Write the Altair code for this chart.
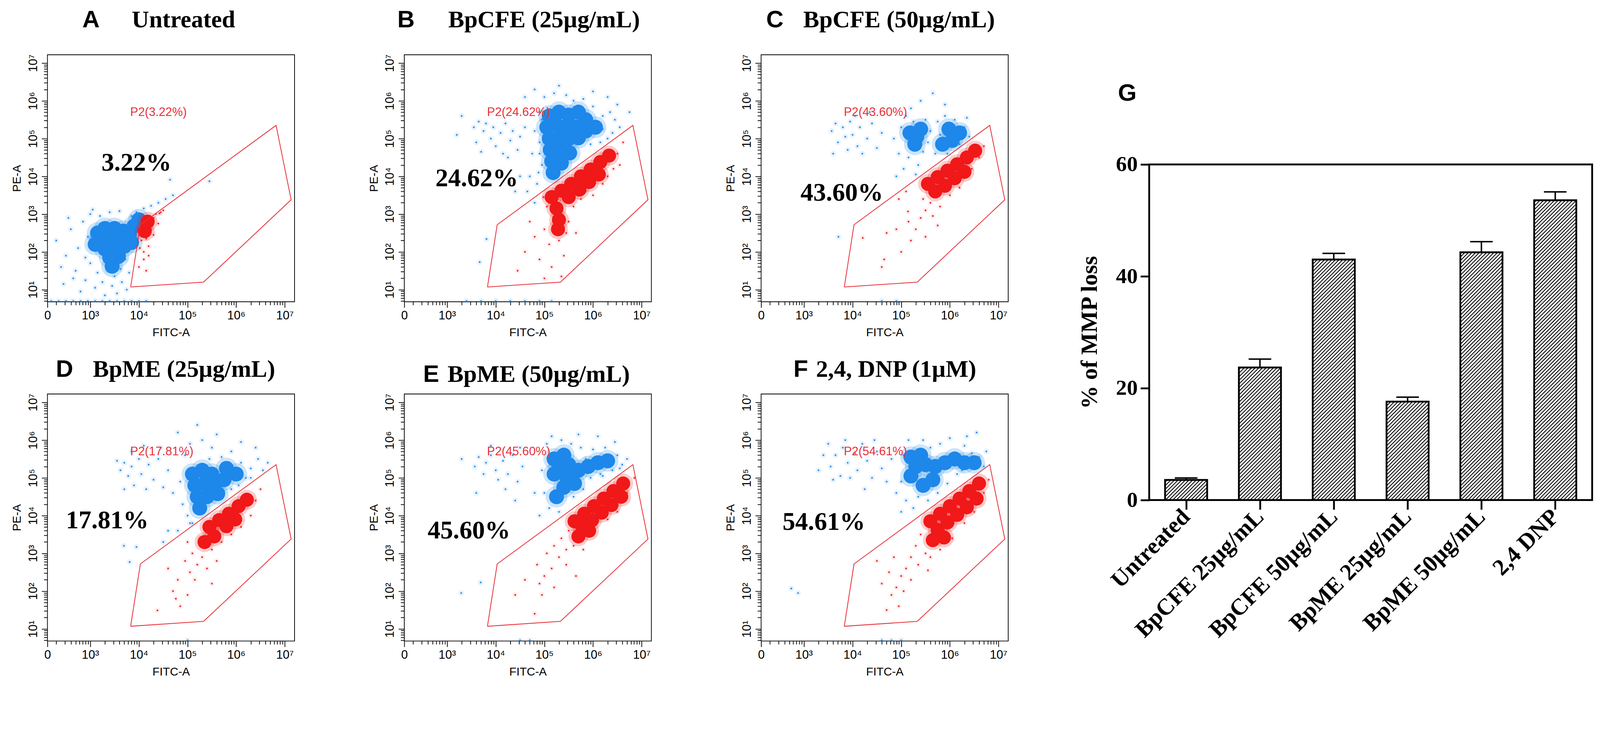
import math
import json
import pandas as pd
import altair as alt

# ---------------------------------------------------------------- data
PANEL_LETTERS = ["A", "B", "C", "D", "E", "F"]
PANEL_TITLES = ["Untreated", "BpCFE (25µg/mL)", "BpCFE (50µg/mL)",
                "BpME (25µg/mL)", "BpME (50µg/mL)", "2,4, DNP (1µM)"]
GATE_PERCENT = ["3.22%", "24.62%", "43.60%", "17.81%", "45.60%", "54.61%"]
P2_LABELS = ["P2(3.22%)", "P2(24.62%)", "P2(43.60%)", "P2(17.81%)", "P2(45.60%)", "P2(54.61%)"]

# P2 gate polygon (log10 FITC-A, log10 PE-A)
GATE_X = [3.83, 4.03, 6.82, 7.13, 5.33, 3.83]
GATE_Y = [1.07, 2.72, 5.35, 3.38, 1.20, 1.07]

# ---- A  Untreated
A_BLUE_CORE = [(3.15, 2.5), (3.3, 2.62), (3.5, 2.62), (3.68, 2.55), (3.2, 2.3), (3.4, 2.35), (3.6, 2.35),
               (3.8, 2.45), (3.3, 2.08), (3.5, 2.1), (3.7, 2.15), (3.4, 1.85), (3.58, 1.88), (3.9, 2.68),
               (4.0, 2.85), (3.45, 1.62), (3.1, 2.2), (3.85, 2.25)]
A_BLUE_SPARSE = [(2.3, 2.3), (2.4, 1.6), (2.45, 1.15), (2.5, 1.9), (2.55, 2.9), (2.6, 2.6), (2.7, 1.5),
                 (2.75, 2.1), (2.8, 0.95), (2.85, 2.8), (2.9, 1.25), (2.95, 2.4), (3.0, 1.7), (3.0, 3.0),
                 (3.1, 1.05), (3.15, 1.45), (3.2, 2.95), (3.25, 1.2), (3.3, 0.85), (3.35, 1.5), (3.45, 1.1),
                 (3.5, 1.35), (3.55, 0.9), (3.62, 1.55), (3.65, 1.2), (3.72, 1.8), (3.75, 1.0), (3.8, 1.45),
                 (3.85, 2.95), (3.95, 3.05), (4.1, 3.15), (4.25, 3.22), (4.4, 3.3), (4.55, 3.4), (4.7, 3.5),
                 (3.05, 3.12), (3.4, 3.05), (3.6, 3.08), (2.65, 1.3), (2.9, 1.85), (4.64, 3.91), (5.45, 3.87),
                 (2.2, 0.7), (2.35, 0.7), (2.5, 0.7), (2.65, 0.7), (2.8, 0.7), (2.95, 0.7), (3.1, 0.7),
                 (3.25, 0.7), (3.4, 0.7), (3.55, 0.7), (3.7, 0.7), (3.85, 0.7), (4.0, 0.7), (4.15, 0.7)]
A_RED_CORE = [(4.12, 2.55), (4.18, 2.8)]
A_RED_SPARSE = [(4.02, 2.1), (4.05, 2.3), (4.1, 2.0), (4.15, 2.35), (4.2, 2.15), (4.25, 2.6), (4.3, 2.9),
                (4.35, 3.0), (4.42, 3.02), (4.45, 3.05), (4.3, 2.45), (4.1, 1.8), (4.2, 1.9), (4.5, 3.1),
                (4.0, 1.6), (4.15, 1.5), (4.4, 2.75), (4.27, 2.85)]

# ---- B  BpCFE 25
B_BLUE_CORE = [(5.1, 5.6), (5.3, 5.7), (5.5, 5.62), (5.05, 5.3), (5.25, 5.35), (5.45, 5.32), (5.65, 5.3),
               (5.1, 5.0), (5.3, 5.0), (5.5, 5.0), (5.7, 5.02), (5.12, 4.7), (5.32, 4.7), (5.52, 4.62),
               (5.15, 4.4), (5.35, 4.35), (5.18, 4.1), (5.85, 5.2), (5.85, 5.5), (6.05, 5.3), (5.7, 5.7)]
B_BLUE_SPARSE = [(3.55, 5.3), (3.65, 5.45), (3.75, 5.2), (3.8, 5.4), (3.9, 5.0), (3.95, 5.3), (4.0, 4.8),
                 (4.1, 5.15), (4.15, 4.6), (4.2, 5.4), (4.3, 4.95), (4.35, 5.2), (4.45, 4.7), (4.5, 5.05),
                 (4.6, 5.3), (3.6, 4.9), (3.7, 4.65), (4.25, 4.5), (3.2, 5.1), (3.3, 5.6), (4.7, 4.0),
                 (4.75, 4.6), (4.8, 5.2), (4.85, 3.8), (4.9, 5.7), (4.95, 4.3), (4.65, 3.6), (4.8, 3.3),
                 (5.0, 6.1), (5.2, 6.2), (5.45, 6.15), (5.6, 6.0), (5.8, 6.05), (6.0, 5.85), (6.2, 5.6),
                 (6.35, 5.7), (6.45, 5.5), (6.55, 5.3), (6.5, 5.9), (6.3, 6.1), (6.0, 6.25), (5.3, 6.4),
                 (4.6, 6.1), (4.8, 6.3), (6.75, 5.7), (4.5, 4.0), (4.4, 3.6), (6.2, 5.25), (6.3, 5.0),
                 (6.4, 5.15), (6.15, 4.9), (5.95, 4.85), (4.9, 4.9), (4.95, 5.5), (4.9, 4.6), (4.88, 4.1),
                 (3.67, 1.73), (3.81, 2.34), (3.4, 0.7), (3.7, 0.7), (4.0, 0.7), (4.3, 0.7), (4.6, 0.7),
                 (4.9, 0.7), (5.15, 0.7)]
B_RED_CORE = [(5.15, 3.45), (5.35, 3.62), (5.55, 3.8), (5.75, 4.0), (5.95, 4.18), (6.15, 4.38), (6.33, 4.55),
              (5.5, 3.45), (5.72, 3.65), (5.92, 3.85), (6.12, 4.05), (5.25, 3.15), (5.3, 2.85), (5.28, 2.6)]
B_RED_SPARSE = [(4.6, 2.0), (4.8, 2.4), (4.9, 1.8), (5.0, 2.6), (5.1, 2.2), (5.15, 1.6), (5.2, 2.9),
                (5.3, 2.3), (5.4, 1.9), (5.45, 2.5), (5.5, 2.8), (5.6, 3.2), (5.65, 2.5), (5.75, 3.4),
                (5.85, 3.6), (6.0, 3.5), (6.2, 3.8), (6.42, 4.2), (6.5, 4.6), (6.62, 4.9), (4.45, 1.5),
                (5.0, 1.3), (5.35, 1.35), (6.3, 4.0), (4.7, 2.8), (5.05, 3.2), (4.98, 3.45), (6.55, 4.3)]

# ---- C  BpCFE 50
C_BLUE_CORE = [(5.18, 5.15), (5.32, 5.05), (5.4, 5.25), (5.28, 4.85), (5.85, 4.85), (6.05, 4.95),
               (6.2, 5.15), (5.98, 5.25)]
C_BLUE_SPARSE = [(3.57, 5.2), (3.65, 5.4), (3.7, 4.9), (3.8, 5.3), (3.85, 5.05), (3.9, 4.7), (3.95, 5.45),
                 (4.0, 5.1), (4.1, 4.8), (4.15, 5.3), (4.2, 4.6), (4.3, 5.0), (4.4, 5.4), (4.5, 4.75),
                 (4.6, 5.15), (3.6, 4.6), (4.05, 5.6), (4.35, 5.7), (4.95, 4.6), (5.0, 5.3), (5.05, 4.2),
                 (5.1, 5.6), (5.15, 4.5), (5.2, 5.8), (5.35, 4.3), (5.45, 4.65), (5.5, 5.5), (5.55, 4.9),
                 (5.6, 5.2), (5.7, 4.6), (5.75, 5.45), (5.8, 5.1), (5.9, 5.6), (5.95, 4.6), (6.1, 5.5),
                 (6.2, 4.85), (6.3, 5.3), (6.4, 5.05), (6.35, 5.55), (5.3, 4.05), (5.4, 6.0), (5.65, 6.2),
                 (5.9, 5.9), (4.9, 4.0), (5.25, 5.45), (6.0, 5.15), (6.25, 5.05), (4.85, 5.0), (3.71, 2.4),
                 (4.6, 0.7), (4.9, 0.7)]
C_RED_CORE = [(5.55, 3.8), (5.75, 3.98), (5.95, 4.15), (6.15, 4.32), (6.35, 4.5), (6.52, 4.68), (5.7, 3.6),
              (5.9, 3.75), (6.1, 3.95), (6.3, 4.12)]
C_RED_SPARSE = [(5.45, 3.4), (5.5, 3.1), (5.6, 3.3), (5.4, 2.9), (5.3, 2.6), (5.2, 2.3), (5.0, 2.0),
                (4.9, 2.6), (5.15, 2.8), (5.65, 2.95), (5.8, 3.2), (6.0, 3.5), (6.2, 3.7), (6.45, 4.2),
                (6.6, 4.5), (6.7, 4.8), (4.7, 2.5), (4.65, 1.8), (4.6, 1.6), (5.5, 2.4), (5.75, 2.7),
                (4.95, 3.4), (5.1, 3.6), (4.21, 2.37), (5.14, 3.07)]

# ---- D  BpME 25
D_BLUE_CORE = [(5.1, 5.1), (5.3, 5.2), (5.5, 5.1), (5.15, 4.8), (5.35, 4.85), (5.55, 4.8), (5.2, 4.5),
               (5.4, 4.5), (5.62, 4.58), (5.75, 4.95), (5.8, 5.25), (6.0, 5.1), (5.25, 4.2)]
D_BLUE_SPARSE = [(3.55, 5.45), (3.62, 5.2), (3.7, 5.4), (3.78, 5.05), (3.85, 5.3), (3.9, 4.8), (4.0, 5.5),
                 (4.05, 5.1), (4.15, 4.7), (4.2, 5.35), (4.3, 4.95), (4.4, 5.5), (4.5, 4.75), (4.6, 5.2),
                 (4.7, 4.6), (3.7, 4.7), (4.45, 5.8), (4.1, 5.85), (3.85, 5.7), (4.9, 4.3), (4.95, 5.6),
                 (5.0, 4.0), (5.05, 5.9), (5.1, 3.8), (5.3, 6.0), (5.5, 5.8), (5.7, 5.55), (5.9, 5.7),
                 (6.1, 5.4), (6.2, 5.0), (6.3, 5.25), (6.45, 5.5), (6.55, 5.2), (6.4, 5.8), (6.1, 5.95),
                 (5.6, 6.15), (5.2, 6.4), (4.8, 6.2), (5.9, 4.7), (6.05, 4.8), (6.3, 5.0), (4.85, 4.9),
                 (4.8, 3.6), (5.05, 3.8), (5.45, 5.5), (5.75, 4.65), (6.65, 5.4), (4.6, 3.6), (4.5, 3.3),
                 (3.69, 3.2), (3.95, 3.17), (3.81, 2.77), (5.0, 0.7)]
D_RED_CORE = [(5.45, 3.7), (5.65, 3.88), (5.85, 4.05), (6.05, 4.25), (6.22, 4.42), (5.8, 3.72), (5.98, 3.9),
              (5.55, 3.45), (5.35, 3.3)]
D_RED_SPARSE = [(5.0, 3.3), (5.1, 3.0), (5.2, 2.7), (5.25, 3.4), (4.95, 2.8), (5.05, 2.5), (5.15, 2.3),
                (5.3, 2.9), (5.4, 2.6), (5.5, 3.1), (5.6, 2.8), (5.7, 3.3), (5.9, 3.5), (6.1, 3.7),
                (6.3, 4.0), (6.4, 4.4), (6.5, 4.7), (4.8, 2.3), (4.7, 2.0), (4.6, 2.6), (5.0, 1.9),
                (5.5, 2.2), (4.85, 1.6), (5.6, 3.6), (4.38, 1.49), (4.76, 1.8)]

# ---- E  BpME 50
E_BLUE_CORE = [(5.2, 5.5), (5.4, 5.6), (5.3, 5.3), (5.5, 5.35), (5.2, 5.1), (5.45, 5.05), (5.7, 5.2),
               (5.9, 5.3), (6.1, 5.4), (6.3, 5.45), (5.4, 4.75), (5.62, 4.85), (5.25, 4.5)]
E_BLUE_SPARSE = [(3.57, 5.3), (3.65, 5.55), (3.75, 5.1), (3.8, 5.4), (3.9, 5.6), (4.0, 5.2), (4.05, 4.95),
                 (4.15, 5.45), (4.25, 5.1), (4.35, 5.6), (4.45, 4.9), (4.55, 5.3), (3.6, 4.6), (4.2, 4.7),
                 (4.5, 5.8), (3.9, 5.85), (4.4, 4.4), (3.3, 5.5), (4.95, 5.2), (5.0, 4.6), (5.05, 5.9),
                 (5.1, 4.2), (5.15, 6.1), (5.3, 4.1), (5.35, 6.0), (5.55, 5.9), (5.6, 4.5), (5.75, 5.8),
                 (5.8, 4.7), (5.95, 5.0), (6.0, 5.75), (6.15, 5.1), (6.25, 5.8), (6.4, 5.2), (6.5, 5.6),
                 (6.6, 5.35), (6.7, 5.5), (6.45, 5.95), (6.1, 6.1), (5.7, 6.15), (4.9, 4.0), (4.8, 4.6),
                 (5.85, 5.5), (6.2, 5.05), (6.55, 5.25), (3.29, 1.95), (3.69, 2.23), (4.5, 0.7), (4.7, 0.7)]
E_RED_CORE = [(5.62, 3.85), (5.82, 4.05), (6.02, 4.25), (6.22, 4.45), (6.42, 4.65), (6.62, 4.85),
              (5.78, 3.7), (5.98, 3.88), (6.18, 4.08), (6.38, 4.28), (6.58, 4.5), (5.7, 3.45), (5.92, 3.6)]
E_RED_SPARSE = [(5.5, 3.6), (5.35, 3.4), (5.2, 3.2), (5.05, 3.0), (5.3, 2.9), (5.15, 2.6), (5.45, 3.1),
                (5.6, 3.2), (5.0, 2.4), (4.85, 2.7), (4.9, 2.2), (4.95, 1.9), (5.2, 2.1), (4.6, 2.3),
                (4.8, 1.4), (6.0, 3.5), (6.3, 3.9), (6.5, 4.1), (6.7, 4.6), (6.85, 5.0), (5.8, 3.1),
                (5.45, 2.7), (4.4, 1.9), (5.65, 2.4)]

# ---- F  2,4-DNP
F_BLUE_CORE = [(5.2, 5.55), (5.4, 5.6), (5.3, 5.3), (5.5, 5.35), (5.2, 5.05), (5.7, 5.3), (5.9, 5.4),
               (6.1, 5.5), (6.3, 5.4), (6.5, 5.4), (5.45, 4.8), (5.65, 4.95)]
F_BLUE_SPARSE = [(3.4, 5.6), (3.5, 5.9), (3.55, 5.3), (3.65, 5.6), (3.75, 5.05), (3.8, 5.8), (3.9, 5.4),
                 (3.95, 5.0), (4.05, 5.65), (4.1, 5.2), (4.2, 5.9), (4.3, 5.45), (4.4, 5.0), (4.5, 5.7),
                 (4.6, 5.25), (4.7, 4.9), (4.8, 5.5), (3.6, 4.95), (4.25, 4.7), (3.3, 5.2), (4.45, 6.0),
                 (3.85, 6.0), (5.0, 4.9), (5.05, 5.6), (5.1, 4.4), (5.15, 6.0), (5.25, 4.2), (5.35, 4.5),
                 (5.45, 6.0), (5.6, 5.8), (5.8, 5.9), (5.95, 4.85), (6.0, 6.05), (6.15, 5.1), (6.3, 5.85),
                 (6.45, 5.65), (6.6, 5.55), (6.7, 5.3), (6.75, 5.7), (6.35, 6.1), (5.75, 4.6), (5.55, 4.4),
                 (5.0, 4.1), (6.55, 6.2), (6.25, 5.2), (4.9, 4.6), (2.74, 2.07), (2.88, 1.95),
                 (4.6, 0.7), (4.8, 0.7), (5.0, 0.7)]
F_RED_CORE = [(5.6, 3.85), (5.8, 4.05), (6.0, 4.25), (6.2, 4.45), (6.4, 4.65), (6.6, 4.85), (5.75, 3.62),
              (5.95, 3.82), (6.15, 4.02), (6.35, 4.22), (6.55, 4.45), (5.65, 3.35), (5.88, 3.42)]
F_RED_SPARSE = [(5.4, 3.5), (5.3, 3.2), (5.2, 2.9), (5.1, 2.6), (5.0, 2.4), (4.9, 2.1), (4.85, 2.9),
                (5.35, 2.7), (5.5, 3.0), (5.05, 2.0), (4.75, 2.5), (4.8, 1.9), (4.6, 2.2), (4.95, 1.6),
                (4.7, 1.5), (5.2, 2.3), (5.6, 2.9), (6.05, 3.4), (6.3, 3.8), (6.5, 4.1), (6.7, 4.6),
                (6.8, 4.95), (5.8, 3.1), (4.5, 2.8), (5.55, 2.55)]

# ---- G  bar chart
BAR_LABELS = ["Untreated", "BpCFE 25µg/mL", "BpCFE 50µg/mL", "BpME 25µg/mL", "BpME 50µg/mL", "2,4 DNP"]
BAR_VALUES = [3.6, 23.7, 43.0, 17.6, 44.3, 53.6]
BAR_ERRORS = [0.35, 1.5, 1.1, 0.8, 1.9, 1.5]

# ---------------------------------------------------------------- style / layout
SANS = "Liberation Sans, Arial, Helvetica, sans-serif"
SERIF = "Liberation Serif, Times New Roman, serif"
BLUE = "#1d87ea"
RED = "#f01818"
GATE_RED = "#e8313a"
PW, PH = 680, 680
XDOM = [2.12, 7.2]
YDOM = [0.68, 7.22]
# (letter dx, title dx, baseline dy) relative to plot top-left
TITLE_POS = {"A": (96, 232, -76), "B": (-19, 121, -76), "C": (14, 116, -76),
             "D": (23, 125, -47), "E": (52, 119, -33), "F": (89, 151, -47)}
PCT_POS = {"A": (3.23, 4.15), "B": (2.76, 3.74), "C": (2.93, 3.36),
           "D": (2.5, 3.66), "E": (2.6, 3.4), "F": (2.56, 3.62)}
P2_POS = (3.82, 5.69)

SUP = "['⁰','¹','²','³','⁴','⁵','⁶','⁷']"
X_VALS = [XDOM[0]] + [round(math.log10(k * 10 ** n), 4) for n in range(2, 8) for k in range(1, 10)
                      if XDOM[0] < math.log10(k * 10 ** n) <= XDOM[1]]
Y_VALS = [round(math.log10(k * 10 ** n), 4) for n in range(0, 8) for k in range(1, 10)
          if YDOM[0] <= math.log10(k * 10 ** n) <= YDOM[1]]
MAJOR_X = "datum.value < 2.2 || abs(datum.value - round(datum.value)) < 0.001"
MAJOR_Y = "abs(datum.value - round(datum.value)) < 0.001"

X_AXIS = alt.Axis(values=X_VALS,
                  labelExpr="datum.value < 2.2 ? '0' : (" + MAJOR_Y + " ? '10' + " + SUP +
                            "[round(datum.value)] : '')",
                  tickSize={"condition": {"test": MAJOR_X, "value": 16}, "value": 9},
                  tickWidth=2, tickColor="black", domain=False, grid=False,
                  labelFont=SANS, labelFontSize=33, labelColor="black", labelPadding=6,
                  labelOverlap=False, labelFlush=False, labelBound=False,
                  title="FITC-A", titleFont=SANS, titleFontSize=32, titleFontWeight="normal",
                  titleColor="black", titlePadding=14)
Y_AXIS = alt.Axis(values=Y_VALS,
                  labelExpr=MAJOR_Y + " ? '10' + " + SUP + "[round(datum.value)] : ''",
                  tickSize={"condition": {"test": MAJOR_Y, "value": 16}, "value": 10},
                  tickWidth=2, tickColor="black", domain=False, grid=False,
                  labelFont=SANS, labelFontSize=33, labelColor="black", labelPadding=6,
                  labelAngle=270, labelOverlap=False, labelFlush=False, labelBound=False,
                  title="PE-A", titleFont=SANS, titleFontSize=32, titleFontWeight="normal",
                  titleColor="black", titlePadding=12)


def pts(lst):
    return pd.DataFrame({"x": [p[0] for p in lst], "y": [p[1] for p in lst]})


def panel(idx, blue_core, blue_sparse, red_core, red_sparse):
    letter = PANEL_LETTERS[idx]
    xs = alt.Scale(domain=XDOM, nice=False, zero=False)
    ys = alt.Scale(domain=YDOM, nice=False, zero=False)
    xn = alt.X("x:Q", scale=xs, axis=X_AXIS)
    yn = alt.Y("y:Q", scale=ys, axis=Y_AXIS)

    layers = [
        # faint haze where the scattered events are
        alt.Chart(pts(blue_sparse)).mark_circle(color=BLUE, size=260, opacity=0.10).encode(x=xn, y=yn),
        alt.Chart(pts(red_sparse)).mark_circle(color=RED, size=220, opacity=0.08).encode(x=xn, y=yn),
        # dense populations
        alt.Chart(pts(blue_core)).mark_circle(color=BLUE, size=3600, opacity=0.22).encode(x=xn, y=yn),
        alt.Chart(pts(blue_core)).mark_circle(color=BLUE, size=1700, opacity=1).encode(x=xn, y=yn),
        alt.Chart(pts(blue_sparse)).mark_circle(color=BLUE, size=26, opacity=0.9).encode(x=xn, y=yn),
        alt.Chart(pts(red_core)).mark_circle(color=RED, size=3000, opacity=0.22).encode(x=xn, y=yn),
        alt.Chart(pts(red_core)).mark_circle(color=RED, size=1500, opacity=1).encode(x=xn, y=yn),
        alt.Chart(pts(red_sparse)).mark_circle(color=RED, size=26, opacity=0.9).encode(x=xn, y=yn),
        alt.Chart(pd.DataFrame({"x": GATE_X, "y": GATE_Y, "o": list(range(len(GATE_X)))}))
        .mark_line(color=GATE_RED, strokeWidth=2.2).encode(x=xn, y=yn, order="o:Q"),
        alt.Chart(pd.DataFrame({"x": [PCT_POS[letter][0]], "y": [PCT_POS[letter][1]],
                                "t": [GATE_PERCENT[idx]]}))
        .mark_text(font=SERIF, fontWeight="bold", fontSize=70, color="black", align="left",
                   baseline="alphabetic").encode(x=xn, y=yn, text="t:N"),
        alt.Chart(pd.DataFrame({"x": [P2_POS[0]], "y": [P2_POS[1]], "t": [P2_LABELS[idx]]}))
        .mark_text(font=SANS, fontSize=33, color=GATE_RED, align="left", baseline="middle")
        .encode(x=xn, y=yn, text="t:N"),
        alt.Chart(pd.DataFrame({"t": [letter]}))
        .mark_text(font=SANS, fontWeight="bold", fontSize=66, color="black", align="left",
                   baseline="alphabetic")
        .encode(x=alt.value(TITLE_POS[letter][0]), y=alt.value(TITLE_POS[letter][2]), text="t:N"),
        alt.Chart(pd.DataFrame({"t": [PANEL_TITLES[idx]]}))
        .mark_text(font=SERIF, fontWeight="bold", fontSize=66, color="black", align="left",
                   baseline="alphabetic")
        .encode(x=alt.value(TITLE_POS[letter][1]), y=alt.value(TITLE_POS[letter][2]), text="t:N"),
    ]
    return alt.layer(*layers).properties(width=PW, height=PH)


pA = panel(0, A_BLUE_CORE, A_BLUE_SPARSE, A_RED_CORE, A_RED_SPARSE)
pB = panel(1, B_BLUE_CORE, B_BLUE_SPARSE, B_RED_CORE, B_RED_SPARSE)
pC = panel(2, C_BLUE_CORE, C_BLUE_SPARSE, C_RED_CORE, C_RED_SPARSE)
pD = panel(3, D_BLUE_CORE, D_BLUE_SPARSE, D_RED_CORE, D_RED_SPARSE)
pE = panel(4, E_BLUE_CORE, E_BLUE_SPARSE, E_RED_CORE, E_RED_SPARSE)
pF = panel(5, F_BLUE_CORE, F_BLUE_SPARSE, F_RED_CORE, F_RED_SPARSE)

# ---------------------------------------------------------------- bar chart G
GW, GH = 1219, 924
N = len(BAR_LABELS)
HW = 0.285
CAP = 0.153
bars = pd.DataFrame({"i": list(range(N)), "v": BAR_VALUES, "e": BAR_ERRORS})
bars["lo"] = bars["i"] - HW
bars["hi"] = bars["i"] + HW
bars["top"] = bars["v"] + bars["e"]
bars["zero"] = 0.0
bars["clo"] = bars["i"] - CAP
bars["chi"] = bars["i"] + CAP

# diagonal hatching inside each bar
pxu = GW / 6.0
pyu = GH / 60.0
STEP = 10.0
hatch = []
for i, v in enumerate(BAR_VALUES):
    R = 2 * HW * pxu
    Hp = v * pyu
    b = -R + STEP / 2
    while b < Hp:
        xs_ = max(0.0, -b)
        xe_ = min(R, Hp - b)
        if xe_ > xs_:
            hatch.append({"x1": i - HW + xs_ / pxu, "x2": i - HW + xe_ / pxu,
                          "y1": (xs_ + b) / pyu, "y2": (xe_ + b) / pyu})
        b += STEP
hatch = pd.DataFrame(hatch)

gx = alt.Scale(domain=[-0.5, N - 0.5], nice=False, zero=False)
gy = alt.Scale(domain=[0, 60], nice=False, zero=False)
label_expr = json.dumps(BAR_LABELS, ensure_ascii=False) + "[round(datum.value)]"
GX_AXIS = alt.Axis(values=list(range(N)), labelExpr=label_expr, labelAngle=315, labelAlign="right",
                   labelBaseline="middle", labelFont=SERIF, labelFontWeight="bold", labelFontSize=64,
                   labelColor="black", labelPadding=10, labelLimit=0, tickSize=26, tickWidth=5,
                   tickColor="black", domain=False, grid=False, title=None, labelOverlap=False,
                   labelFlush=False, labelBound=False)
GY_AXIS = alt.Axis(values=[0, 20, 40, 60], labelFont=SERIF, labelFontWeight="bold", labelFontSize=60,
                   labelColor="black", labelPadding=8, tickSize=24, tickWidth=5, tickColor="black",
                   domain=False, grid=False, title="% of MMP loss", titleFont=SERIF,
                   titleFontWeight="bold", titleFontSize=64, titleColor="black", titlePadding=40,
                   labelOverlap=False)

g_fill = alt.Chart(bars).mark_rect(fill="white").encode(
    x=alt.X("lo:Q", scale=gx, axis=GX_AXIS), x2="hi:Q",
    y=alt.Y("v:Q", scale=gy, axis=GY_AXIS), y2="zero:Q")
g_hatch = alt.Chart(hatch).mark_rule(color="black", strokeWidth=2.3).encode(
    x=alt.X("x1:Q", scale=gx, axis=GX_AXIS), x2="x2:Q",
    y=alt.Y("y1:Q", scale=gy, axis=GY_AXIS), y2="y2:Q")
g_outline = alt.Chart(bars).mark_rect(fill="white", fillOpacity=0, stroke="black", strokeWidth=5).encode(
    x=alt.X("lo:Q", scale=gx, axis=GX_AXIS), x2="hi:Q",
    y=alt.Y("v:Q", scale=gy, axis=GY_AXIS), y2="zero:Q")
g_err = alt.Chart(bars).mark_rule(color="black", strokeWidth=4).encode(
    x=alt.X("i:Q", scale=gx, axis=GX_AXIS),
    y=alt.Y("v:Q", scale=gy, axis=GY_AXIS), y2="top:Q")
g_cap = alt.Chart(bars).mark_rule(color="black", strokeWidth=4).encode(
    x=alt.X("clo:Q", scale=gx, axis=GX_AXIS), x2="chi:Q",
    y=alt.Y("top:Q", scale=gy, axis=GY_AXIS))
g_letter = alt.Chart(pd.DataFrame({"t": ["G"]})).mark_text(
    font=SANS, fontWeight="bold", fontSize=66, color="black", align="left", baseline="alphabetic"
).encode(x=alt.value(-86), y=alt.value(-175), text="t:N")

pG = alt.layer(g_fill, g_hatch, g_outline, g_err, g_cap, g_letter).properties(
    width=GW, height=GH, view=alt.ViewBackground(stroke="black", strokeWidth=5))

spacer = alt.Chart(pd.DataFrame({"a": [0]})).mark_point(opacity=0).encode(
    x=alt.value(0), y=alt.value(0)).properties(
    width=GW, height=60, view=alt.ViewBackground(stroke="transparent"))

row1 = alt.hconcat(pA, pB, pC, spacing=302, bounds="flush")
row2 = alt.hconcat(pD, pE, pF, spacing=302, bounds="flush")
left = alt.vconcat(row1, row2, spacing=52)
right = alt.vconcat(spacer, pG, spacing=10)

chart = alt.hconcat(left, right, spacing=188).properties(
    padding={"left": 20, "top": -55, "right": 10, "bottom": 0},
    background="white",
).configure_view(stroke="black", strokeWidth=2)

chart.save("out.html", embed_options={"renderer": "svg", "actions": False})
